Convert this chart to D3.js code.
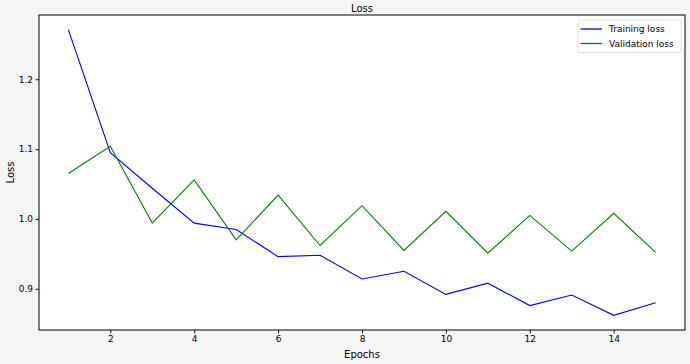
<!DOCTYPE html>
<html>
<head>
<meta charset="utf-8">
<script src="https://cdn.jsdelivr.net/npm/d3@7"></script>
<style>
  body { margin: 0; background: #f5f5f5; }
  svg { display: block; font-family: "DejaVu Sans", sans-serif; }
</style>
</head>
<body>
<svg id="chart" width="690" height="364"></svg>
<script>
var epochs = [1, 2, 3, 4, 5, 6, 7, 8, 9, 10, 11, 12, 13, 14, 15]
var trainingLoss = [1.271, 1.095, 1.044, 0.994, 0.985, 0.946, 0.948, 0.914, 0.925, 0.892, 0.908, 0.876, 0.891, 0.862, 0.880]
var validationLoss = [1.065, 1.104, 0.994, 1.056, 0.970, 1.034, 0.962, 1.019, 0.955, 1.011, 0.951, 1.005, 0.954, 1.008, 0.952]
var xTicks = [2, 4, 6, 8, 10, 12, 14]
var yTicks = [0.9, 1.0, 1.1, 1.2]
var seriesNames = ["Training loss", "Validation loss"]
var seriesColors = ["#0000ff", "#008000"]

var svg = d3.select("#chart")
// "top" is a reserved window global, so use other names
var plotL = 39, plotR = 685, plotT = 15, plotB = 330

var x = d3.scaleLinear().domain([0.3, 15.7]).range([plotL, plotR])
var y = d3.scaleLinear().domain([0.841, 1.292]).range([plotB, plotT])

// plot background
svg.append("rect")
    .attr("x", plotL).attr("y", plotT)
    .attr("width", plotR - plotL).attr("height", plotB - plotT)
    .attr("fill", "white")

var xAxis = svg.append("g")
    .attr("transform", "translate(0," + plotB + ")")
    .call(d3.axisBottom(x).tickValues(xTicks).tickSize(3.5).tickPadding(2.5).tickFormat(d3.format("d")))
var yAxis = svg.append("g")
    .attr("transform", "translate(" + plotL + ",0)")
    .call(d3.axisLeft(y).tickValues(yTicks).tickSize(3.5).tickPadding(2.5).tickFormat(d3.format(".1f")))

;[xAxis, yAxis].forEach(function (a) {
    a.select(".domain").remove()
    a.selectAll("text").attr("font-size", "9px").attr("fill", "#000").attr("font-family", "DejaVu Sans")
    a.selectAll("line").attr("stroke", "#000").attr("stroke-width", 0.9)
})

var line = d3.line()
    .x(function (d, i) { return x(epochs[i]) })
    .y(function (d) { return y(d) })

;[trainingLoss, validationLoss].forEach(function (s, i) {
    svg.append("path")
        .attr("d", line(s))
        .attr("fill", "none")
        .attr("stroke", seriesColors[i])
        .attr("stroke-width", 1.1)
})

// frame
svg.append("rect")
    .attr("x", plotL).attr("y", plotT)
    .attr("width", plotR - plotL).attr("height", plotB - plotT)
    .attr("fill", "none")
    .attr("stroke", "#000")
    .attr("stroke-width", 1)

// legend
var legend = svg.append("g").attr("transform", "translate(578,20)")
legend.append("rect")
    .attr("width", 103).attr("height", 32.5)
    .attr("rx", 2)
    .attr("fill", "white").attr("fill-opacity", 0.8)
    .attr("stroke", "#d6d6d6").attr("stroke-width", 0.8)
seriesNames.forEach(function (name, i) {
    var row = legend.append("g").attr("transform", "translate(0," + (9 + i * 14.5) + ")")
    row.append("line")
        .attr("x1", 2.5).attr("x2", 24)
        .attr("stroke", seriesColors[i]).attr("stroke-width", 1.3)
    row.append("text")
        .attr("x", 31).attr("dy", "0.35em")
        .attr("font-size", "9px")
        .text(name)
})

// titles
svg.append("text")
    .attr("x", (plotL + plotR) / 2).attr("y", 12)
    .attr("text-anchor", "middle").attr("font-size", "10px")
    .text("Loss")
svg.append("text")
    .attr("x", (plotL + plotR) / 2).attr("y", 358)
    .attr("text-anchor", "middle").attr("font-size", "10px")
    .text("Epochs")
svg.append("text")
    .attr("transform", "translate(14," + ((plotT + plotB) / 2) + ") rotate(-90)")
    .attr("text-anchor", "middle").attr("font-size", "10px")
    .text("Loss")
</script>
</body>
</html>
